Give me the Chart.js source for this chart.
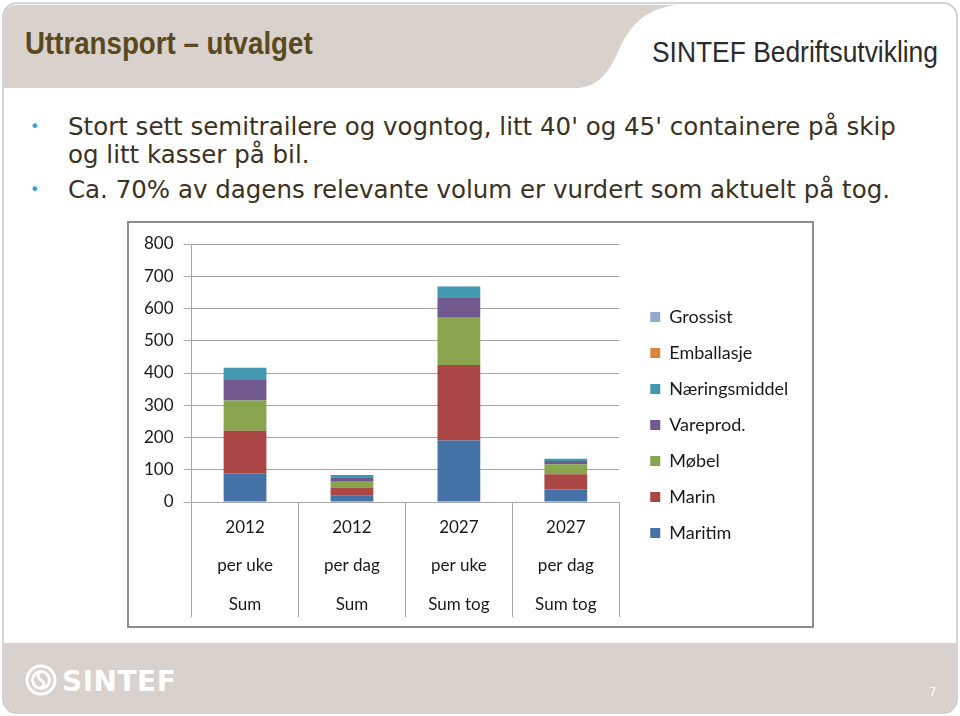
<!DOCTYPE html>
<html>
<head>
<meta charset="utf-8">
<script src="https://cdn.jsdelivr.net/npm/chart.js@4/dist/chart.umd.min.js"></script>
<style>
  body { margin: 0; width: 960px; height: 716px; background: #fff; position: relative; overflow: hidden; }
  .frame { position: absolute; left: 0; top: 0; }
  .title { position: absolute; left: 25px; top: 25px; font: bold 32px "Liberation Sans", sans-serif; color: #5a4820; transform: scaleX(0.865); transform-origin: left top; white-space: nowrap; }
  .brand { position: absolute; left: 652px; top: 36px; font: 29px "Liberation Sans", sans-serif; color: #2b2b2b; transform: scaleX(0.91); transform-origin: left top; white-space: nowrap; }
  .bullets { position: absolute; left: 30px; top: 113px; width: 920px; font: 24.5px "DejaVu Sans", sans-serif; color: #3b321f; }
  .bullets p { margin: 0 0 7px 0; padding-left: 38px; position: relative; line-height: 28px; white-space: nowrap; }
  .bullets p::before { content: "•"; position: absolute; left: 0; color: #2aa5d6; font-size: 16px; }
  .logo { position: absolute; left: 62px; top: 665px; font: bold 28px "DejaVu Sans", sans-serif; color: #fff; letter-spacing: 0.5px; }
  .page { position: absolute; left: 929px; top: 684px; font: 13px "DejaVu Sans Condensed", sans-serif; color: #fff; }
  .box { position: absolute; left: 127px; top: 221px; width: 687px; height: 407px; border: 2px solid #8c8c8c; box-sizing: border-box; background: #fff; }
</style>
</head>
<body>
<svg class="frame" width="960" height="716">
  <rect x="3" y="3" width="954" height="710" rx="14" fill="#fff" stroke="#c8c8c8" stroke-width="1.5"/>
  <path d="M4 88 L4 18 Q4 5 17 5 L676 5 C640 10 628 30 618 52 C608 74 598 86 578 88 Z" fill="#d9d1cb"/>
  <path d="M4 643 L956 643 L956 700 Q956 712 944 712 L16 712 Q4 712 4 700 Z" fill="#d9d1cb"/>
  <g fill="none" stroke="#fff" stroke-width="3">
    <circle cx="41" cy="680" r="14"/>
    <circle cx="41" cy="680" r="8.5"/>
  </g>
  <path d="M41 671 Q35 676 41 680 Q47 684 40 689" fill="none" stroke="#fff" stroke-width="3"/>
</svg>
<div class="title">Uttransport – utvalget</div>
<div class="brand">SINTEF Bedriftsutvikling</div>
<div class="bullets">
  <p>Stort sett semitrailere og vogntog, litt 40' og 45' containere på skip<br>og litt kasser på bil.</p>
  <p>Ca. 70% av dagens relevante volum er vurdert som aktuelt på tog.</p>
</div>
<div class="box"><canvas id="chart" width="683" height="403"></canvas></div>
<div class="logo">SINTEF</div>
<div class="page">7</div>
<script>
const categories = [
  ['2012', 'per uke', 'Sum'],
  ['2012', 'per dag', 'Sum'],
  ['2027', 'per uke', 'Sum tog'],
  ['2027', 'per dag', 'Sum tog']
]
const seriesNames = ['Maritim', 'Marin', 'Møbel', 'Vareprod.', 'Næringsmiddel', 'Emballasje', 'Grossist']
const maritim = [89, 19, 191, 39]
const marin = [132, 26, 234, 47]
const mobel = [94, 18, 149, 31]
const vareprod = [66, 14, 61, 10]
const naering = [35, 7, 33, 7]
const emballasje = [0, 0, 0, 0]
const grossist = [0, 0, 0, 0]
const yTicks = [0, 100, 200, 300, 400, 500, 600, 700, 800]

const colors = ['#4572a7', '#aa4643', '#89a54e', '#71588f', '#4198af', '#db843d', '#93a9cf']
const values = [maritim, marin, mobel, vareprod, naering, emballasje, grossist]

Chart.defaults.font.family = 'Lato, sans-serif'
Chart.defaults.font.size = 17
Chart.defaults.color = '#1a1a1a'

// move the legend a bit away from the plot and up, like the excel original
const legendGap = {
  id: 'legendGap',
  afterLayout(chart) {
    chart.legend.left += 13
    chart.legend.right += 13
    chart.legend.top -= 9
    chart.legend.bottom -= 9
  }
}

new Chart('chart', {
  type: 'bar',
  data: {
    labels: categories,
    datasets: values.map((data, i) => ({
      label: seriesNames[i],
      data,
      backgroundColor: colors[i],
      borderWidth: 0,
      barPercentage: 0.4,
      categoryPercentage: 1
    }))
  },
  plugins: [legendGap],
  options: {
    responsive: false,
    animation: false,
    layout: { padding: { top: 21, left: 5, right: 31, bottom: 2 } },
    plugins: {
      tooltip: { enabled: false },
      legend: {
        position: 'right',
        reverse: true,
        labels: { boxWidth: 10, boxHeight: 10, padding: 18, font: { size: 18 }, color: '#1a1a1a' }
      }
    },
    scales: {
      x: {
        stacked: true,
        grid: { offset: true, drawOnChartArea: false, tickLength: 115, color: '#a6a6a6' },
        border: { color: '#a6a6a6' },
        ticks: { padding: -109, font: { size: 17, lineHeight: 2.27 } },
        afterFit: scale => { scale.height = 122 }
      },
      y: {
        stacked: true,
        min: 0,
        max: 800,
        afterBuildTicks: scale => { scale.ticks = yTicks.map(value => ({ value })) },
        grid: { tickLength: 8, color: '#a6a6a6' },
        border: { color: '#a6a6a6' },
        ticks: { padding: 10 }
      }
    }
  }
})
</script>
</body>
</html>
